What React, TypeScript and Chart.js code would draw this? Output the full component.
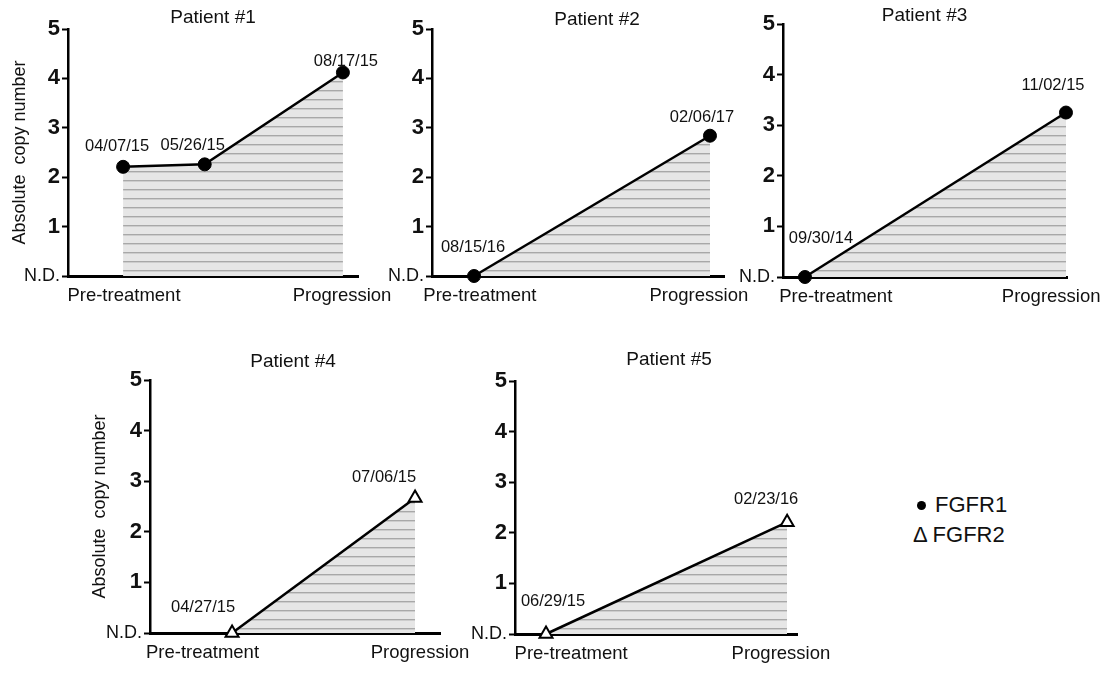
import React, { useEffect, useRef } from 'react';
import { Chart, registerables } from 'chart.js';

Chart.register(...registerables);

const FONT = '"Liberation Sans", Arial, Helvetica, sans-serif';
Chart.defaults.font.family = FONT;
Chart.defaults.color = '#111';

// ---------- data ----------
const patientTitles = ['Patient #1', 'Patient #2', 'Patient #3', 'Patient #4', 'Patient #5'];
const patientGenes = ['FGFR1', 'FGFR1', 'FGFR1', 'FGFR2', 'FGFR2'];
const xTickLabels = ['Pre-treatment', 'Progression'];
const yTickLabels = ['N.D.', '1', '2', '3', '4', '5'];
const yAxisTitle = 'Absolute  copy number';
const legendLabels = ['FGFR1', 'FGFR2'];

const p1Dates = ['04/07/15', '05/26/15', '08/17/15'];
const p1Values = [2.21, 2.26, 4.12];
const p2Dates = ['08/15/16', '02/06/17'];
const p2Values = [0, 2.84];
const p3Dates = ['09/30/14', '11/02/15'];
const p3Values = [0, 3.25];
const p4Dates = ['04/27/15', '07/06/15'];
const p4Values = [0, 2.67];
const p5Dates = ['06/29/15', '02/23/16'];
const p5Values = [0, 2.21];

const allDates = [p1Dates, p2Dates, p3Dates, p4Dates, p5Dates];
const allValues = [p1Values, p2Values, p3Values, p4Values, p5Values];

// ---------- layout (pixels / fractions, not data) ----------
type Layout = {
  axisLeft: number; axisRight: number; top: number; bottom: number;
  cLeft: number; cTop: number; cRight: number; cBottom: number;
  pFirst: number; pLast: number; fPre: number; fProg: number;
  titleDx: number; titleDy: number; offsets: number[][]; yTitle: boolean;
};

const layouts: Layout[] = [
  { axisLeft: 68, axisRight: 358, top: 29, bottom: 276, cLeft: 5, cTop: 0, cRight: 413, cBottom: 318,
    pFirst: 0.19, pLast: 0.948, fPre: 0.193, fProg: 0.945, titleDx: 0, titleDy: 6,
    offsets: [[-6, -20], [-12, -19], [3, -11]], yTitle: true },
  { axisLeft: 432, axisRight: 724, top: 29, bottom: 276, cLeft: 372, cTop: 0, cRight: 780, cBottom: 318,
    pFirst: 0.144, pLast: 0.952, fPre: 0.164, fProg: 0.914, titleDx: 19, titleDy: 4,
    offsets: [[-1, -29], [-8, -18]], yTitle: false },
  { axisLeft: 783, axisRight: 1070, top: 24, bottom: 277, cLeft: 723, cTop: 0, cRight: 1112, cBottom: 318,
    pFirst: 0.077, pLast: 0.993, fPre: 0.185, fProg: 0.941, titleDx: -1, titleDy: 3,
    offsets: [[16, -39], [-13, -27]], yTitle: false },
  { axisLeft: 150, axisRight: 440, top: 380, bottom: 633, cLeft: 85, cTop: 340, cRight: 495, cBottom: 672,
    pFirst: 0.283, pLast: 0.914, fPre: 0.181, fProg: 0.931, titleDx: -2, titleDy: 13,
    offsets: [[-29, -26], [-31, -20]], yTitle: true },
  { axisLeft: 515, axisRight: 797, top: 381, bottom: 634, cLeft: 455, cTop: 340, cRight: 850, cBottom: 672,
    pFirst: 0.11, pLast: 0.965, fPre: 0.199, fProg: 0.943, titleDx: 13, titleDy: 16,
    offsets: [[7, -33], [-21, -23]], yTitle: false },
];

const toDay = (s: string) => {
  const [m, d, y] = s.split('/').map(Number);
  return Date.UTC(2000 + y, m - 1, d) / 86400000;
};

const panelText = {
  id: 'panelText',
  afterDatasetsDraw(chart: any, _args: any, opts: any) {
    const { ctx, chartArea } = chart;
    const meta = chart.getDatasetMeta(0);
    ctx.save();
    ctx.fillStyle = '#111';
    ctx.textAlign = 'center';
    ctx.textBaseline = 'middle';
    ctx.font = `16.5px ${FONT}`;
    meta.data.forEach((pt: any, i: number) => {
      const [dx, dy] = opts.offsets[i];
      ctx.fillText(opts.dates[i], pt.x + dx, pt.y + dy);
    });
    ctx.font = `19px ${FONT}`;
    ctx.textBaseline = 'alphabetic';
    ctx.fillText(opts.title, (chartArea.left + chartArea.right) / 2 + opts.titleDx, chartArea.top - opts.titleDy);
    ctx.restore();
  },
};

function makePattern(): CanvasPattern | string {
  const tile = document.createElement('canvas');
  tile.width = 8;
  tile.height = 9;
  const t = tile.getContext('2d');
  if (!t) return '#e6e6e6';
  t.fillStyle = '#e6e6e6';
  t.fillRect(0, 0, 8, 9);
  t.fillStyle = '#a8a8a8';
  t.fillRect(0, 0, 8, 1.4);
  const p = t.createPattern(tile, 'repeat');
  return p || '#e6e6e6';
}

function Panel({ idx }: { idx: number }) {
  const ref = useRef<HTMLCanvasElement | null>(null);
  const L = layouts[idx];
  const w = L.cRight - L.cLeft;
  const h = L.cBottom - L.cTop;

  useEffect(() => {
    if (!ref.current) return;
    const dates = allDates[idx];
    const values = allValues[idx];
    const d0 = toDay(dates[0]);
    const xs = dates.map((d) => toDay(d) - d0);
    const span = xs[xs.length - 1];
    const R = span / (L.pLast - L.pFirst);
    const xMin = -L.pFirst * R;
    const xMax = xMin + R;
    const tickVals = [xMin + L.fPre * R, xMin + L.fProg * R];
    const isCircle = patientGenes[idx] === 'FGFR1';
    const Wy = L.axisLeft - L.cLeft;
    const Hx = L.cBottom - L.bottom;

    const chart = new Chart(ref.current, {
      type: 'line',
      data: {
        datasets: [
          {
            data: xs.map((x, i) => ({ x, y: values[i] })),
            borderColor: '#000',
            borderWidth: 2.5,
            pointStyle: isCircle ? 'circle' : 'triangle',
            pointRadius: isCircle ? 6.5 : 7.5,
            pointBackgroundColor: isCircle ? '#000' : '#fff',
            pointBorderColor: '#000',
            pointBorderWidth: isCircle ? 1 : 2,
            fill: 'origin',
            backgroundColor: makePattern() as any,
            tension: 0,
            clip: false as any,
          },
        ],
      },
      plugins: [panelText],
      options: {
        animation: false,
        responsive: false,
        events: [],
        layout: {
          padding: { top: L.top - L.cTop, right: L.cRight - L.axisRight, left: 0, bottom: 0 },
        },
        plugins: {
          legend: { display: false },
          tooltip: { enabled: false },
          title: { display: false },
          panelText: {
            dates,
            offsets: L.offsets,
            title: patientTitles[idx],
            titleDx: L.titleDx,
            titleDy: L.titleDy,
          },
        } as any,
        scales: {
          x: {
            type: 'linear',
            position: 'bottom',
            min: xMin,
            max: xMax,
            afterBuildTicks: (s: any) => {
              s.ticks = tickVals.map((v) => ({ value: v }));
            },
            afterFit: (s: any) => {
              s.height = Hx;
            },
            grid: { display: false, drawTicks: false },
            border: { display: true, color: '#000', width: 3 },
            ticks: {
              autoSkip: false,
              maxRotation: 0,
              minRotation: 0,
              padding: 9,
              color: '#111',
              font: { size: 18.5, family: FONT },
              callback: (_v: any, i: number) => xTickLabels[i],
            },
          },
          y: {
            type: 'linear',
            position: 'left',
            min: 0,
            max: 5,
            afterFit: (s: any) => {
              s.width = Wy;
            },
            border: { display: true, color: '#000', width: 2.5 },
            grid: {
              display: true,
              drawOnChartArea: false,
              drawTicks: true,
              tickLength: 6,
              tickWidth: 2,
              tickColor: '#000',
              color: '#000',
            },
            title: {
              display: L.yTitle,
              text: yAxisTitle,
              color: '#111',
              font: { size: 18, family: FONT },
              padding: { top: 4, bottom: 0 },
            },
            ticks: {
              stepSize: 1,
              padding: 2,
              color: '#111',
              font: (c: any) =>
                c.tick && c.tick.value === 0
                  ? { size: 18, weight: 'normal', family: FONT }
                  : { size: 22, weight: 'bold', family: FONT },
              callback: (v: any) => yTickLabels[Math.round(Number(v))],
            },
          },
        },
      } as any,
    });
    return () => chart.destroy();
  }, [idx]);

  return (
    <canvas
      ref={ref}
      width={w}
      height={h}
      style={{ position: 'absolute', left: L.cLeft, top: L.cTop, width: w, height: h }}
    />
  );
}

export default function App() {
  return (
    <div
      style={{
        position: 'absolute',
        left: 0,
        top: 0,
        width: 1112,
        height: 675,
        overflow: 'hidden',
        background: '#fff',
        fontFamily: FONT,
      }}
    >
      {layouts.map((_, i) => (
        <Panel key={i} idx={i} />
      ))}
      <div
        style={{
          position: 'absolute',
          left: 916.5,
          top: 500.5,
          width: 9,
          height: 9,
          borderRadius: '50%',
          background: '#000',
        }}
      />
      <div style={{ position: 'absolute', left: 935, top: 494, fontSize: 22, lineHeight: '22px', color: '#111', whiteSpace: 'nowrap' }}>
        {legendLabels[0]}
      </div>
      <div style={{ position: 'absolute', left: 913, top: 524, fontSize: 22, lineHeight: '22px', color: '#111', whiteSpace: 'nowrap' }}>
        {'Δ ' + legendLabels[1]}
      </div>
    </div>
  );
}
